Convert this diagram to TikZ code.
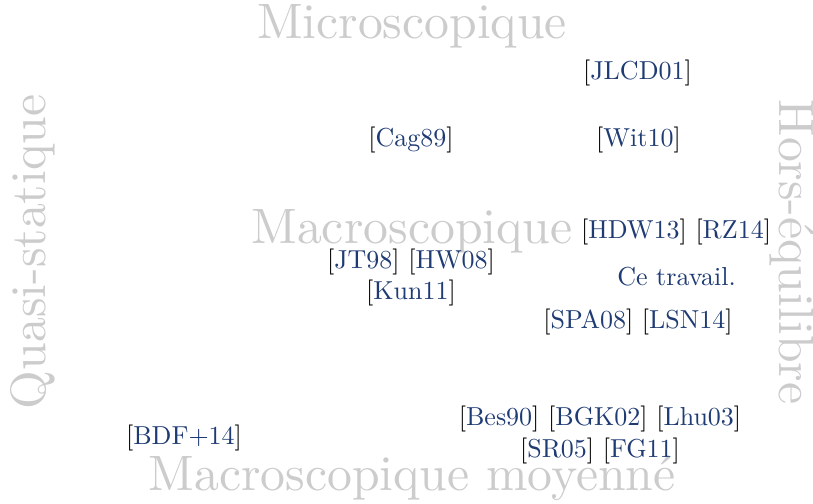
\documentclass[tikz,border=0pt]{standalone}
\usepackage{fontspec}
\newfontfamily\lmten[Extension=.otf]{lmroman10-regular}
\definecolor{citeblue}{HTML}{1F3B73}
\definecolor{axisgray}{HTML}{CCCCCC}
\newcommand{\citeref}[1]{[\textcolor{citeblue}{#1}]}
\begin{document}
\begin{tikzpicture}[x=0.4pt,y=-0.4pt,
  axislabel/.style={inner sep=0pt,anchor=base,text=axisgray,font=\lmten\fontsize{19.9}{24}\selectfont},
  ref/.style={inner sep=0pt,anchor=base,font=\fontsize{10.4}{12.5}\selectfont}]
\useasboundingbox (0,0) rectangle (813,503);
% axis labels
\node[axislabel] (micro) at (412,38) {Microscopique};
\node[axislabel] (macro) at (412,243) {Macroscopique};
\node[axislabel] (macromoy) at (412,490) {Macroscopique moyenné};
\node[axislabel,rotate=90] (quasi) at (45,252) {Quasi-statique};
\node[axislabel,rotate=-90] (hors) at (779,252) {Hors-équilibre};
% references
\node[ref] (jlcd) at (637.5,79) {\citeref{JLCD01}};
\node[ref] (wit) at (638.5,146) {\citeref{Wit10}};
\node[ref] (cag) at (411,146) {\citeref{Cag89}};
\node[ref] (hdw) at (676,238) {\citeref{HDW13} \citeref{RZ14}};
\node[ref] (jt) at (411,268) {\citeref{JT98} \citeref{HW08}};
\node[ref] (kun) at (411,299) {\citeref{Kun11}};
\node[ref,text=citeblue] (ce) at (676.5,285) {Ce travail.};
\node[ref] (spa) at (638,328) {\citeref{SPA08} \citeref{LSN14}};
\node[ref] (bdf) at (184,444) {\citeref{BDF+14}};
\node[ref] (bes) at (600,425) {\citeref{Bes90} \citeref{BGK02} \citeref{Lhu03}};
\node[ref] (sr) at (600,457) {\citeref{SR05} \citeref{FG11}};
\end{tikzpicture}
\end{document}
